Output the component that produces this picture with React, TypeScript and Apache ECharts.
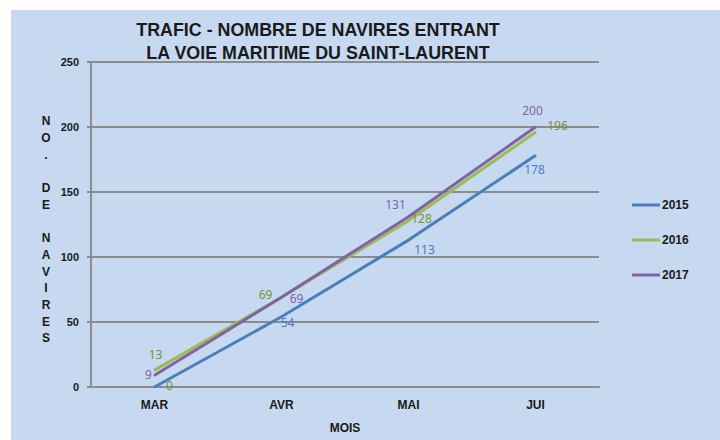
import React, { useEffect, useRef } from "react";
import * as echarts from "echarts";

const months = ["MAR", "AVR", "MAI", "JUI"];
const s2015 = [0, 54, 113, 178];
const s2016 = [13, 69, 128, 196];
const s2017 = [9, 69, 131, 200];
const seriesNames = ["2015", "2016", "2017"];
const yTicks = [0, 50, 100, 150, 200, 250];

const colors = ["#4a7ebb", "#9bbb59", "#8064a2"];
const labelOffsets = [
  [[15, -2], [6, 6], [16, 9], [-1, 14]],
  [[1, -16], [-16, -3], [13, -2], [22, -7]],
  [[-6, -1], [15, 1], [-13, -12], [-3, -17]],
];
const labelColors = [
  ["#76923c", "#4a7ebb", "#4a7ebb", "#4a7ebb"],
  ["#77933c", "#77933c", "#77933c", "#77933c"],
  ["#8064a2", "#8064a2", "#8064a2", "#8064a2"],
];

export default function App() {
  const ref = useRef<HTMLDivElement>(null);
  useEffect(() => {
    document.body.style.margin = "0";
    const chart = echarts.init(ref.current!, null, { renderer: "svg" });
    const all = [s2015, s2016, s2017];
    chart.setOption({
      animation: false,
      backgroundColor: "#ffffff",
      graphic: [
        { type: "rect", z: -10, shape: { x: 11, y: 10, width: 720, height: 440 }, style: { fill: "#c6d9f0" } },
        {
          type: "text", z: 100, x: 318, y: 18, scaleX: 0.94, originX: 0,
          style: {
            text: "TRAFIC - NOMBRE DE NAVIRES ENTRANT\nLA VOIE MARITIME DU SAINT-LAURENT",
            fontFamily: "'Liberation Sans', Arial", fontWeight: "bold",
            fontSize: 19, lineHeight: 23, fill: "#1a1a1a", align: "center",
          },
        },
        {
          type: "text", x: 46, y: 113,
          style: {
            text: "N\nO\n.\n\nD\nE\n\nN\nA\nV\nI\nR\nE\nS",
            fontFamily: "'Liberation Sans', Arial", fontWeight: "bold", fontSize: 12,
            lineHeight: 16.7, fill: "#1a1a1a", align: "center",
          },
        },
      ],
      grid: { left: 91, right: 121, top: 62, bottom: 53, outerBoundsMode: "none", containLabel: false },
      legend: {
        orient: "vertical", left: 627, top: 194, itemGap: 23, itemWidth: 28, itemHeight: 3,
        icon: "rect",
        textStyle: { fontFamily: "'Liberation Sans', Arial", fontWeight: "bold", fontSize: 12, color: "#1a1a1a", padding: [0, 0, 0, -3] },
        data: seriesNames,
      },
      xAxis: {
        type: "category", data: months, boundaryGap: true,
        name: "MOIS", nameLocation: "middle", nameGap: 35,
        nameTextStyle: { fontFamily: "'Liberation Sans', Arial", fontWeight: "bold", fontSize: 12, color: "#1a1a1a" },
        axisLine: { show: true, lineStyle: { color: "#8c8c8c", width: 2 } },
        axisTick: { show: false },
        axisLabel: { fontFamily: "'Liberation Sans', Arial", fontWeight: "bold", fontSize: 12, color: "#1a1a1a", margin: 12 },
      },
      yAxis: {
        type: "value", min: 0, max: 250, interval: 50,
        axisLine: { show: true, lineStyle: { color: "#8c8c8c", width: 2 } },
        axisTick: { show: true, length: 4, lineStyle: { color: "#8c8c8c", width: 2 } },
        splitLine: { lineStyle: { color: "#8c8c8c", width: 2 } },
        axisLabel: { fontFamily: "'Liberation Sans', Arial", fontWeight: "bold", fontSize: 11, color: "#1a1a1a", margin: 12,
          formatter: (v: number) => (yTicks.includes(v) ? String(v) : "") },
      },
      series: all.map((vals, si) => ({
        name: seriesNames[si], type: "line", data: vals.map((v, i) => ({
          value: v,
          label: {
            show: true, position: "inside", offset: labelOffsets[si][i],
            color: labelColors[si][i], fontFamily: "'Noto Sans', 'Open Sans', sans-serif", fontSize: 12,
          },
        })),
        symbol: "circle", symbolSize: 2, showSymbol: true,
        lineStyle: { color: colors[si], width: 3 },
        itemStyle: { color: colors[si] },
        label: { show: true },
        z: 2 + si,
      })),
    });
    return () => chart.dispose();
  }, []);
  return <div ref={ref} style={{ position: "absolute", left: 0, top: 0, width: 720, height: 440 }} />;
}
